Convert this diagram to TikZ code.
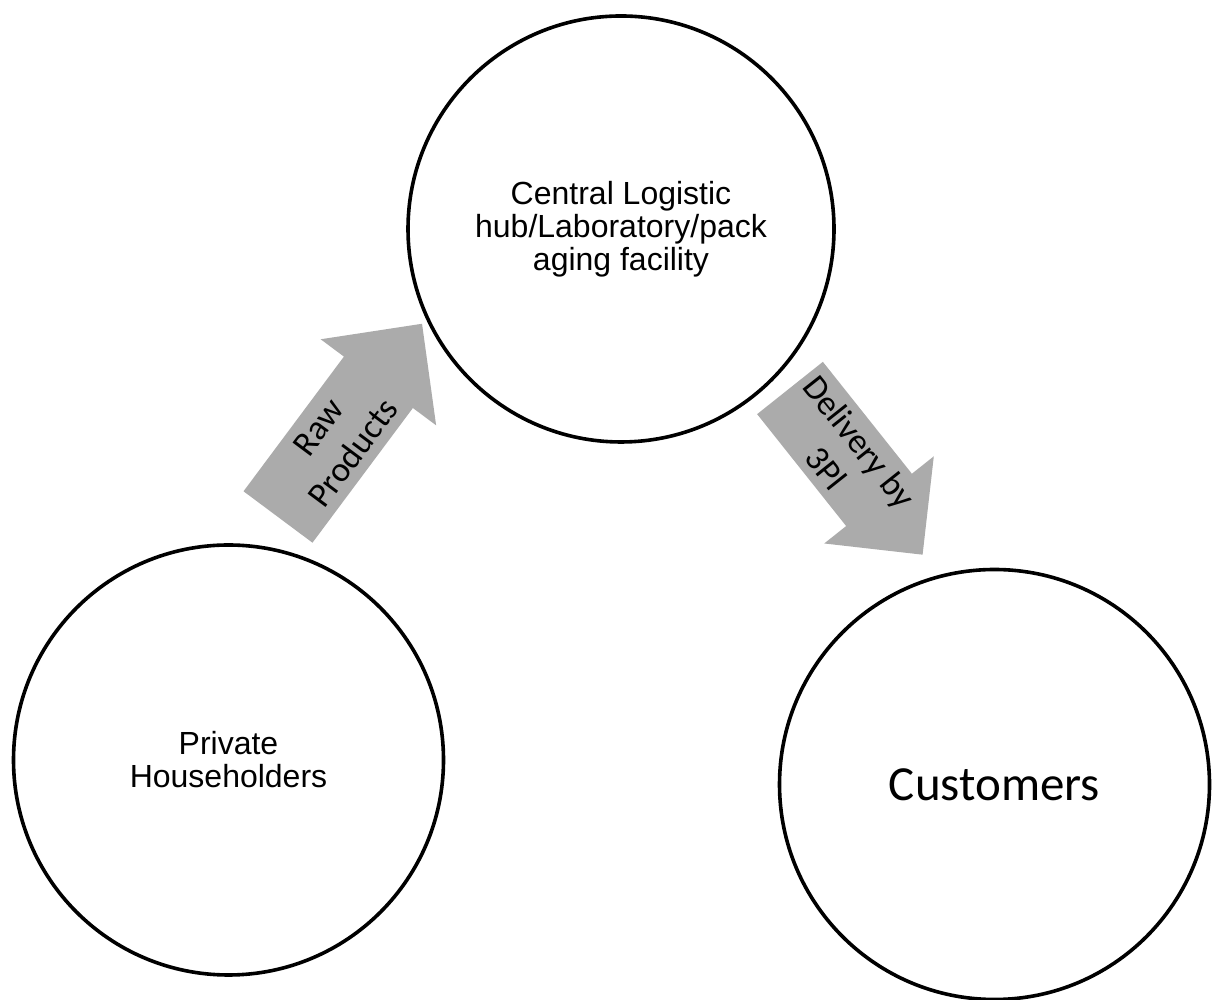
\documentclass[tikz,border=0pt]{standalone}
\usepackage{fontspec}
\setmainfont{Liberation Sans}
\newfontfamily\calfont{Carlito}
\definecolor{arrowgray}{HTML}{ABABAB}
\begin{document}
\begin{tikzpicture}[x=1pt,y=1pt,
  place/.style={circle,draw=black,line width=3.6pt,inner sep=0pt,align=center,
    font=\fontsize{32}{33}\selectfont},
  blockarrow/.style={fill=arrowgray,draw=none},
  arrowlabel/.style={align=center,font=\calfont\fontsize{35}{43}\selectfont}]
\useasboundingbox (0,0) rectangle (1220,1000);
\fill[white] (0,0) rectangle (1220,1000);
% circles
\node[place,minimum size=426pt] (hub) at (621,771) {Central Logistic\\hub/Laboratory/pack\\aging facility};
\node[place,minimum size=430pt] (house) at (228.5,240) {Private\\Householders};
\node[place,minimum size=430pt,font=\calfont\fontsize{49}{52}\selectfont] (cust) at (994.5,215.5) {Customers};
% arrow 1
\begin{scope}[shift={(278,483)},rotate=53.3]
  \fill[blockarrow] (0,43) -- (168,43) -- (168,72) -- (241,0) -- (168,-72) -- (168,-43) -- (0,-43) -- cycle;
\end{scope}
\node[arrowlabel,rotate=53.3] (raw) at (336,560) {Raw\\Products};
% arrow 2
\begin{scope}[shift={(790,612)},rotate=-51.5]
  \fill[blockarrow] (0,42) -- (143,42) -- (143,70) -- (213,0) -- (143,-70) -- (143,-42) -- (0,-42) -- cycle;
\end{scope}
\node[arrowlabel,rotate=-51.5] (deliv) at (843,545) {Delivery by\\3Pl};
\end{tikzpicture}
\end{document}
